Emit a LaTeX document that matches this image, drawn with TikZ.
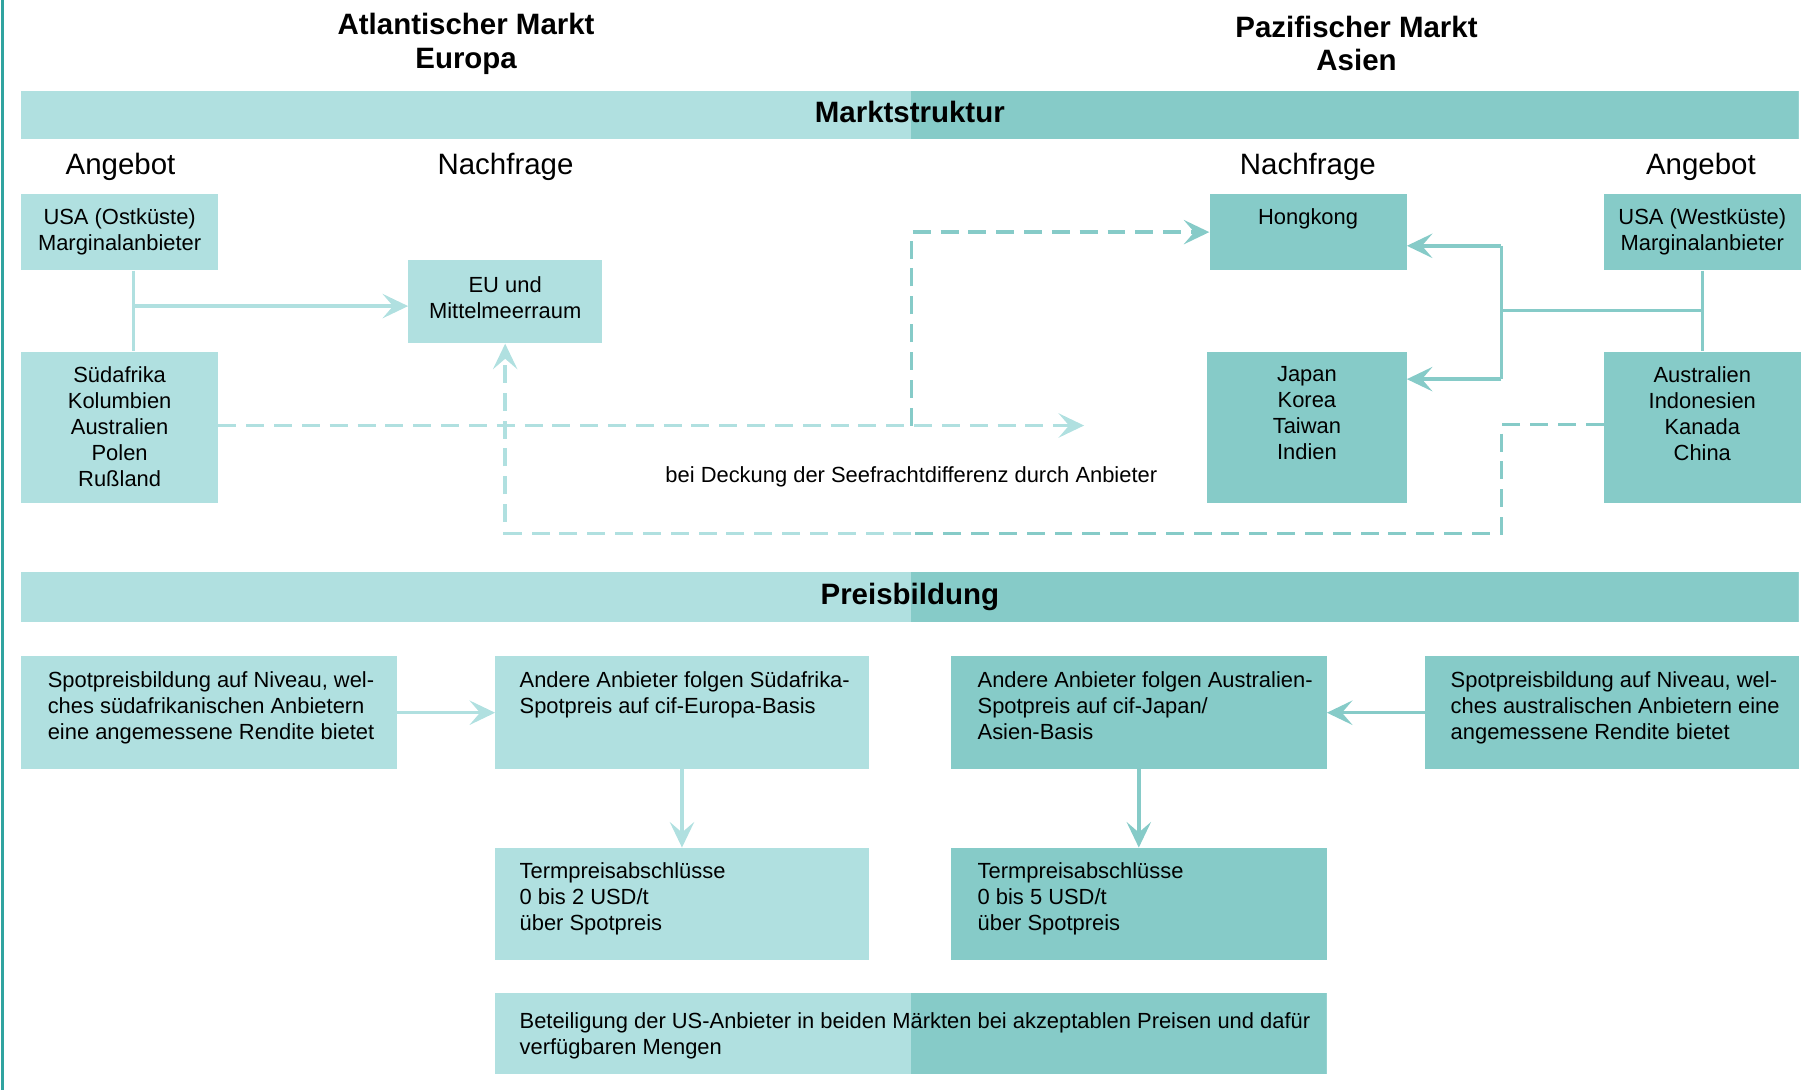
\documentclass[tikz,border=0pt]{standalone}
\usepackage{fontspec}
\setmainfont{Liberation Sans}
\usetikzlibrary{arrows.meta,calc}
\definecolor{lt}{RGB}{176,224,224}
\definecolor{dk}{RGB}{134,203,200}
\definecolor{edgecol}{RGB}{48,163,160}
\newcommand\bodyfont{\fontsize{18.9}{22.4}\selectfont}
\newcommand\headfont{\fontsize{25.4}{29}\selectfont}
\begin{document}
\begin{tikzpicture}[x=1pt,y=-1pt,
  box/.style={rectangle, inner sep=0pt, anchor=north west},
  ltbox/.style={box, fill=lt},
  dkbox/.style={box, fill=dk},
  splitbox/.style={box, fill=lt, path picture={\fill[dk] (mid |- path picture bounding box.north) rectangle (path picture bounding box.south east);}},
  ctxt/.style={font=\bodyfont, inner sep=0pt, align=center, anchor=north},
  ltxt/.style={font=\bodyfont, inner sep=0pt, align=left, anchor=north west},
  head/.style={font=\headfont\bfseries, inner sep=0pt, align=center},
  sub/.style={font=\headfont, inner sep=0pt},
  tip/.tip={Stealth[length=22pt,width=21pt,inset=9pt]},
  ltline/.style={draw=lt, line width=3pt},
  dkline/.style={draw=dk, line width=3pt},
  ltdash/.style={ltline, dash pattern=on 15.5pt off 8.5pt},
  dkdash/.style={dkline, dash pattern=on 15.5pt off 8.5pt},
]
\useasboundingbox (0,0) rectangle (1568,940);
\coordinate (mid) at (786,0);
% left border
\draw[edgecol, line width=2.2pt] (2,0) -- (2,940);

% headings
\node[head] (atl) at (402,38) {Atlantischer Markt\\Europa};
\node[head] (paz) at (1170,37.5) {Pazifischer Markt\\Asien};

% band Marktstruktur
\node[splitbox, minimum width=1533pt, minimum height=42pt, font=\headfont\bfseries, text depth=6pt] (mband) at (18,78) {Marktstruktur};

\node[sub] (ang1) at (104,144) {Angebot};
\node[sub] (nach1) at (436,144) {Nachfrage};
\node[sub] (nach2) at (1128,144) {Nachfrage};
\node[sub] (ang2) at (1467,144) {Angebot};

% top boxes
\node[ltbox, minimum width=170pt, minimum height=66pt] (usao) at (18,167) {};
\node[ctxt] (usao-t) at ($(usao.north)+(0,13)$) {USA (Ostküste)\\Marginalanbieter};
\node[ltbox, minimum width=167pt, minimum height=72pt] (eu) at (352,224) {};
\node[ctxt] (eu-t) at ($(eu.north)+(0,14)$) {EU und\\Mittelmeerraum};
\node[ltbox, minimum width=170pt, minimum height=131pt] (sued) at (18,303) {};
\node[ctxt] (sued-t) at ($(sued.north)+(0,13)$) {Südafrika\\Kolumbien\\Australien\\Polen\\Rußland};

\node[dkbox, minimum width=170pt, minimum height=66pt] (hk) at (1043,167) {};
\node[ctxt] (hk-t) at ($(hk.north)+(0,13)$) {Hongkong};
\node[dkbox, minimum width=172pt, minimum height=131pt] (jap) at (1041,303) {};
\node[ctxt] (jap-t) at ($(jap.north)+(0,13)$) {Japan\\Korea\\Taiwan\\Indien};
\node[dkbox, minimum width=170pt, minimum height=66pt] (usaw) at (1383,167) {};
\node[ctxt] (usaw-t) at ($(usaw.north)+(0,13)$) {USA (Westküste)\\Marginalanbieter};
\node[dkbox, minimum width=170pt, minimum height=131pt] (aus) at (1383,303) {};
\node[ctxt] (aus-t) at ($(aus.north)+(0,13)$) {Australien\\Indonesien\\Kanada\\China};

\node[font=\bodyfont, inner sep=0pt] (bei) at (786,411) {bei Deckung der Seefrachtdifferenz durch Anbieter};

% top connectors left
\coordinate (lj) at (115,264);
\draw[ltline] (lj |- usao.south) -- (lj |- sued.north);
\draw[ltline, -tip] (lj) -- (lj -| eu.west);
% top connectors right
\coordinate (rj) at (1295,268);
\coordinate (rt) at (1295,212);
\coordinate (rb) at (1295,327);
\draw[dkline] (usaw.south) -- (aus.north);
\draw[dkline] (usaw.south |- rj) -- (rj);
\draw[dkline] (rt) -- (rb);
\draw[dkline, -tip] (rt) -- (rt -| hk.east);
\draw[dkline, -tip] (rb) -- (rb -| jap.east);
% dashed
\coordinate (dj) at (786,367);
\coordinate (dend) at (935,367);
\coordinate (bl) at (786,460);
\coordinate (br) at (1295,460);
\coordinate (ar) at (1383,366);
\draw[ltdash, -tip] (sued.east |- dj) -- (dend);
\draw[dkdash, -tip] (dj) |- (hk.west);
\draw[dkdash] (ar) -- (ar -| br) -- (br) -- (bl);
\draw[ltdash, -tip] (bl) -| (eu.south);

% band Preisbildung
\node[splitbox, minimum width=1533pt, minimum height=43pt, font=\headfont\bfseries] (pband) at (18,493) {Preisbildung};

% lower boxes
\node[ltbox, minimum width=324pt, minimum height=97pt] (spotl) at (18,566) {};
\node[ltxt] (spotl-t) at ($(spotl.north west)+(23,13)$) {Spotpreisbildung auf Niveau, wel-\\ches südafrikanischen Anbietern\\eine angemessene Rendite bietet};
\node[ltbox, minimum width=322pt, minimum height=97pt] (andsa) at (427,566) {};
\node[ltxt] (andsa-t) at ($(andsa.north west)+(21,13)$) {Andere Anbieter folgen Südafrika-\\Spotpreis auf cif-Europa-Basis};
\node[dkbox, minimum width=324pt, minimum height=97pt] (andau) at (820,566) {};
\node[ltxt] (andau-t) at ($(andau.north west)+(23,13)$) {Andere Anbieter folgen Australien-\\Spotpreis auf cif-Japan/\\Asien-Basis};
\node[dkbox, minimum width=322pt, minimum height=97pt] (spotr) at (1229,566) {};
\node[ltxt] (spotr-t) at ($(spotr.north west)+(22,13)$) {Spotpreisbildung auf Niveau, wel-\\ches australischen Anbietern eine\\angemessene Rendite bietet};

\node[ltbox, minimum width=322pt, minimum height=97pt] (termsa) at (427,731) {};
\node[ltxt] (termsa-t) at ($(termsa.north west)+(21,13)$) {Termpreisabschlüsse\\0 bis 2 USD/t\\über Spotpreis};
\node[dkbox, minimum width=324pt, minimum height=97pt] (termau) at (820,731) {};
\node[ltxt] (termau-t) at ($(termau.north west)+(23,13)$) {Termpreisabschlüsse\\0 bis 5 USD/t\\über Spotpreis};

\node[splitbox, minimum width=717pt, minimum height=70pt] (bet) at (427,856) {};
\node[ltxt] (bet-t) at ($(bet.north west)+(21,17)$) {Beteiligung der US-Anbieter in beiden Märkten bei akzeptablen Preisen und dafür\\verfügbaren Mengen};

% lower connectors
\draw[ltline, -tip] (spotl.east) -- (andsa.west);
\draw[dkline, -tip] (spotr.west) -- (andau.east);
\draw[ltline, -tip] (andsa.south) -- (termsa.north);
\draw[dkline, -tip] (andau.south) -- (termau.north);
\end{tikzpicture}
\end{document}
